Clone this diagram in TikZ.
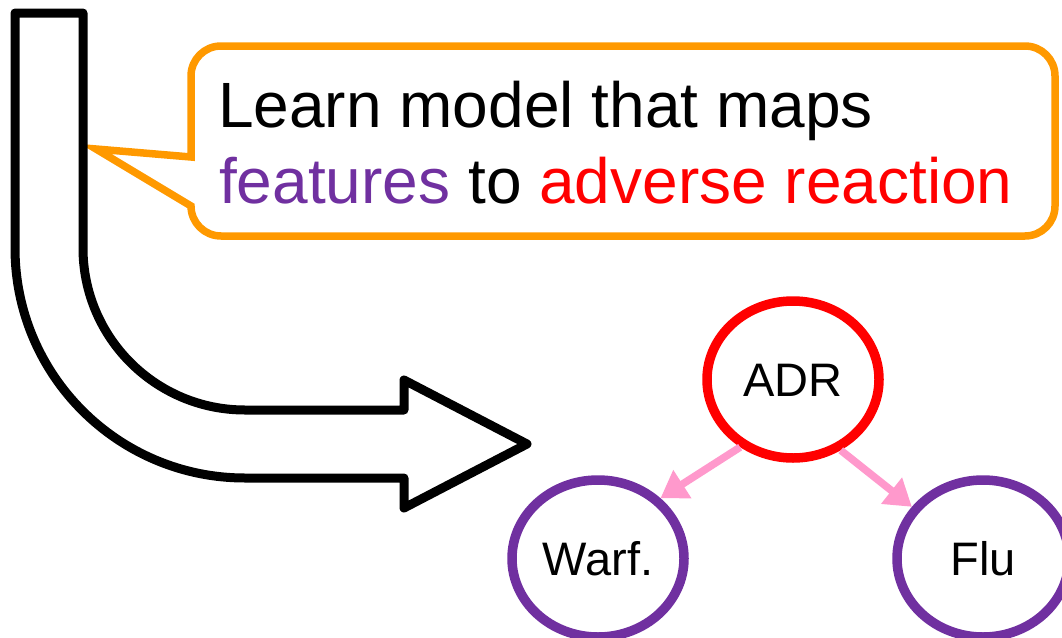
\documentclass[tikz,border=0pt]{standalone}
\usepackage{fontspec}
\setmainfont{Liberation Sans}
\usetikzlibrary{shapes.geometric, arrows.meta}

\definecolor{calloutorange}{RGB}{255,153,0}
\definecolor{featpurple}{RGB}{112,48,160}
\definecolor{adrred}{RGB}{255,0,0}
\definecolor{linkpink}{RGB}{255,153,204}

\begin{document}
\begin{tikzpicture}[x=1pt, y=-1pt,
  var/.style={ellipse, draw, line width=9.5pt, minimum width=172pt,
    minimum height=157pt, inner sep=0pt,
    font=\fontsize{47}{56}\selectfont, text height=33.7pt, text depth=0pt},
  target/.style={var, draw=adrred},
  feature/.style={var, draw=featpurple},
  link/.style={draw=linkpink, line width=7.5pt,
    -{Triangle[length=26pt, width=32pt]}},
  bigarrow/.style={draw=black, line width=9pt, line join=round},
  callout/.style={draw=calloutorange, line width=7.5pt, fill=white},
  say/.style={anchor=base west, inner sep=0pt,
    font=\fontsize{64}{76}\selectfont}
]
\useasboundingbox (0,0) rectangle (1062,637);

% speech bubble with its pointer
\path[callout] (191,157) -- (96,149) -- (191,206)
  arc[start angle=180, end angle=270, radius=30pt] -- (1025,236)
  arc[start angle=270, end angle=360, radius=30pt] -- (1055,76)
  arc[start angle=0, end angle=90, radius=30pt] -- (221,46)
  arc[start angle=90, end angle=180, radius=30pt] -- cycle;

\node[say] (line1) at (218,127) {Learn model that maps};
\node[say] (line2) at (219,203)
  {\textcolor{featpurple}{features} to \textcolor{adrred}{adverse reaction}};

% bent block arrow
\path[bigarrow] (15,13) -- (83,13) -- (83,248)
  arc[start angle=180, end angle=270, radius=162pt] -- (404,410)
  -- (404,380) -- (527,444) -- (404,508) -- (404,478) -- (245,478)
  arc[start angle=270, end angle=180, radius=230pt] -- cycle;

% network
\node[target]  (ADR)  at (793,379.5) {ADR};
\node[feature] (Warf) at (598,558.5) {Warf.};
\node[feature] (Flu)  at (983,558.5) {Flu};

\draw[link] (ADR.232) -- (Warf.44);
\draw[link] (ADR.304) -- (Flu.144);
\end{tikzpicture}
\end{document}
